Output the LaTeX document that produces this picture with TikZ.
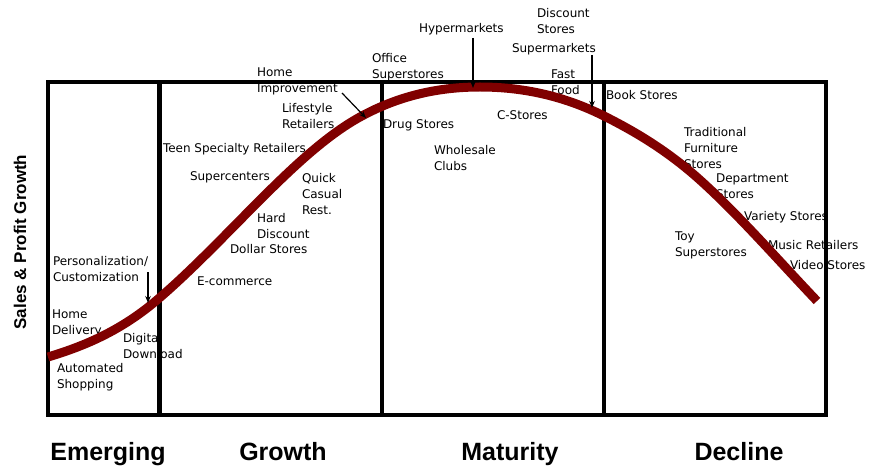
\documentclass[tikz,border=0pt]{standalone}
\usepackage{fontspec}
\setmainfont{DejaVu Sans}
\newfontfamily\headfont{Liberation Sans}
\usetikzlibrary{arrows.meta}
\definecolor{lifecurve}{RGB}{128,0,0}

\begin{document}
\begin{tikzpicture}[x=1pt,y=-1pt,
  lbl/.style={anchor=north west, inner sep=0pt, outer sep=0pt, align=left,
    yshift=11.2pt, font=\fontsize{12}{16}\selectfont},
  phase/.style={anchor=base, inner sep=0pt, font=\headfont\bfseries\fontsize{25}{30}\selectfont},
  axislabel/.style={inner sep=0pt, rotate=90, font=\headfont\bfseries\fontsize{17}{20}\selectfont},
  frameline/.style={line width=4.5pt, line cap=rect},
  curve/.style={line width=9pt, draw=lifecurve},
  pointer/.style={line width=1.2pt, -{Stealth[length=7pt,width=5.5pt]}}
]
\useasboundingbox (0,0) rectangle (869,470);

% ---- labels (baseline of first line given) ----
\node[lbl] (persn) at (53,265) {\strut Personalization/\\Customization};
\node[lbl] (homed) at (52,318) {\strut Home\\Delivery};
\node[lbl] (auto)  at (57,372) {\strut Automated\\Shopping};
\node[lbl] (digi)  at (123,342) {\strut Digital\\Download};

\node[lbl] (ecom)  at (197,285) {\strut E-commerce};
\node[lbl] (dollar) at (230,253) {\strut Dollar Stores};
\node[lbl] (hard)  at (257,222) {\strut Hard\\Discount};
\node[lbl] (super) at (190,181) {\strut Supercenters};
\node[lbl] (quick) at (302,183) {\strut Quick\\Casual\\Rest.};
\node[lbl] (teen)  at (163,153) {\strut Teen Specialty Retailers};
\node[lbl] (life)  at (282,113) {\strut Lifestyle\\Retailers};
\node[lbl] (homei) at (257,77) {\strut Home\\Improvement};

\node[lbl] (office) at (372,63) {\strut Office\\Superstores};
\node[lbl] (drug)  at (383,129) {\strut Drug Stores};
\node[lbl] (hyper) at (419,33) {\strut Hypermarkets};
\node[lbl] (disc)  at (537,18) {\strut Discount\\Stores};
\node[lbl] (smkt)  at (512,53) {\strut Supermarkets};
\node[lbl] (fast)  at (551,79) {\strut Fast\\Food};
\node[lbl] (cst)   at (497,120) {\strut C-Stores};
\node[lbl] (whole) at (434,155) {\strut Wholesale\\Clubs};

\node[lbl] (book)  at (606,100) {\strut Book Stores};
\node[lbl] (furn)  at (684,137) {\strut Traditional\\Furniture\\Stores};
\node[lbl] (dept)  at (716,183) {\strut Department\\Stores};
\node[lbl] (var)   at (744,221) {\strut Variety Stores};
\node[lbl] (toy)   at (675,240) {\strut Toy\\Superstores};
\node[lbl] (music) at (768,249) {\strut Music Retailers};
\node[lbl] (video) at (790,269) {\strut Video Stores};

% ---- stage boxes ----
\draw[frameline] (48,82) rectangle (826,415);
\draw[frameline] (159.5,82) -- (159.5,415);
\draw[frameline] (382,82) -- (382,415);
\draw[frameline] (604,82) -- (604,415);

% ---- life-cycle curve ----
\draw[curve] (48,357)
  .. controls (84.3,346.1) and (120.7,330.9) .. (157,300)
  .. controls (191.3,270.8) and (225.7,234.3) .. (260,200)
  .. controls (293.3,166.7) and (326.7,135.3) .. (360,117)
  .. controls (400,95) and (440,87) .. (480,87)
  .. controls (521.3,87) and (562.7,95.3) .. (604,116)
  .. controls (636,132) and (668,151.2) .. (700,180)
  .. controls (739,215.1) and (778,260) .. (817,301);

% ---- pointers onto the curve ----
\coordinate (persnA) at (148,272);  \coordinate (persnB) at (148,303);
\coordinate (homeiA) at (342,93);   \coordinate (homeiB) at (366,118);
\coordinate (hyperA) at (473,38);   \coordinate (hyperB) at (473,88);
\coordinate (smktA)  at (592,55);   \coordinate (smktB)  at (592,108);
\draw[pointer] (persnA) -- (persnB);
\draw[pointer] (homeiA) -- (homeiB);
\draw[pointer] (hyperA) -- (hyperB);
\draw[pointer] (smktA) -- (smktB);

% ---- axis and stage names ----
\node[axislabel] (ylab) at (20,242) {Sales \& Profit Growth};
\node[phase] (emerging) at (108,460) {Emerging};
\node[phase] (growth)   at (283,460) {Growth};
\node[phase] (maturity) at (510,460) {Maturity};
\node[phase] (decline)  at (739,460) {Decline};
\end{tikzpicture}
\end{document}
